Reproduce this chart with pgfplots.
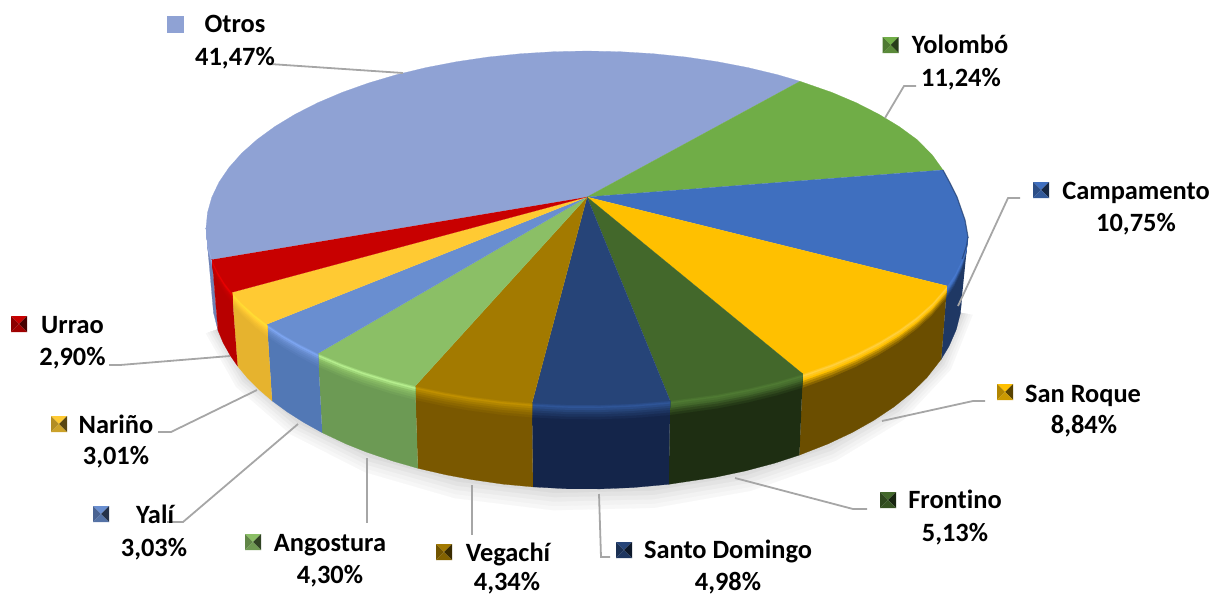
\documentclass[border=0pt]{standalone}
\usepackage{fontspec}
\setmainfont{Carlito}[Ligatures=NoCommon]
\usepackage{pgfplots}
\usepackage{pgfplotstable}
\pgfplotsset{compat=1.18}

% top face / highlight / side colours
\definecolor{tOt}{HTML}{8FA2D4}\definecolor{hOt}{HTML}{A0B4E8}\definecolor{sOt}{HTML}{6E82B5}
\definecolor{tYo}{HTML}{70AD47}
\definecolor{tCa}{HTML}{3F6FBF}\definecolor{hCa}{HTML}{4A7CD2}\definecolor{sCa}{HTML}{1F3864}
\definecolor{tSR}{HTML}{FFC000}\definecolor{hSR}{HTML}{FFD040}\definecolor{sSR}{HTML}{6B4E00}
\definecolor{tFr}{HTML}{43682B}\definecolor{hFr}{HTML}{4F7A33}\definecolor{sFr}{HTML}{1E2E12}
\definecolor{tSD}{HTML}{264478}\definecolor{hSD}{HTML}{2F5597}\definecolor{sSD}{HTML}{14254A}
\definecolor{tVe}{HTML}{A37A00}\definecolor{hVe}{HTML}{C09000}\definecolor{sVe}{HTML}{7A5800}
\definecolor{tAn}{HTML}{8BBF66}\definecolor{hAn}{HTML}{B6EE8E}\definecolor{sAn}{HTML}{6C9A54}
\definecolor{tYa}{HTML}{698ED0}\definecolor{hYa}{HTML}{7EA6F2}\definecolor{sYa}{HTML}{5278B5}
\definecolor{tNa}{HTML}{FFCA33}\definecolor{hNa}{HTML}{FFDF33}\definecolor{sNa}{HTML}{E6B32E}
\definecolor{tUr}{HTML}{C80000}\definecolor{hUr}{HTML}{EE0000}\definecolor{sUr}{HTML}{B80000}
\definecolor{leadc}{HTML}{A6A6A6}

% rim of each slice in pixels: x y, and the way down to the bottom edge dx dy
\pgfplotstableread{
x y dx dy
960.6 312.8 0 0
939.4 362 0 0
894.2 406.7 0 0
828 443.8 0 0
745.5 470.9 0 0
652.1 486.1 0 0
554.3 488.3 0 0
458.8 477.4 0 0
371.9 454.1 0 0
299.8 420.1 0 0
247.1 377.6 0 0
217.7 329.5 0 0
217.7 329.5 -11.8 3.8
247.1 377.6 -10.9 9.3
299.8 420.1 -9.2 14.1
371.9 454.1 -6.9 18
458.8 477.4 -4.1 20.7
554.3 488.3 -1 21.9
652.1 486.1 2.1 21.7
745.5 470.9 5.1 19.9
828 443.8 7.7 16.9
894.2 406.7 9.8 12.6
939.4 362 11.3 7.5
960.6 312.8 12 1.9
}\tShadow
\pgfplotstableread{
x y dx dy
968 237 0 0
966.5 246 0 0
962.2 259 0 0
955 273.8 0 0
947 285.9 0 0
947 285.9 -5.7 73.2
955 273.8 -5.8 72.1
962.2 259 -5.9 70.5
966.5 246 -6 66.8
968 237 -6 59
}\tCa
\pgfplotstableread{
x y dx dy
947 285.9 0 0
932.3 302.8 0 0
916.9 316.5 0 0
899.1 329.5 0 0
878.8 341.8 0 0
856.4 353.2 0 0
831.9 363.6 0 0
802.8 373.9 0 0
802.8 373.9 -3.4 81.2
831.9 363.6 -3.9 80.3
856.4 353.2 -4.2 79.3
878.8 341.8 -4.6 78.3
899.1 329.5 -4.9 77.2
916.9 316.5 -5.2 76
932.3 302.8 -5.4 74.8
947 285.9 -5.7 73.2
}\tSR
\pgfplotstableread{
x y dx dy
802.8 373.9 0 0
777.5 381.3 0 0
748 388.4 0 0
717.3 394.3 0 0
670.1 400.7 0 0
670.1 400.7 -1.3 83.6
717.3 394.3 -2.1 83
748 388.4 -2.5 82.5
777.5 381.3 -3 81.9
802.8 373.9 -3.4 81.2
}\tFr
\pgfplotstableread{
x y dx dy
670.1 400.7 0 0
633.4 403.7 0 0
600.3 404.9 0 0
567.1 404.8 0 0
532 403.1 0 0
532 403.1 .9 83.8
567.1 404.8 .3 84
600.3 404.9 -.2 84
633.4 403.7 -.7 83.9
670.1 400.7 -1.3 83.6
}\tSD
\pgfplotstableread{
x y dx dy
532 403.1 0 0
501.3 400.5 0 0
469.3 396.3 0 0
444.3 392.1 0 0
415.2 386 0 0
415.2 386 2.7 82.3
444.3 392.1 2.2 82.8
469.3 396.3 1.9 83.2
501.3 400.5 1.4 83.6
532 403.1 .9 83.8
}\tVe
\pgfplotstableread{
x y dx dy
415.2 386 0 0
390.8 379.7 0 0
363 371.2 0 0
342.1 363.6 0 0
318 353.4 0 0
318 353.4 4.2 79.3
342.1 363.6 3.9 80.3
363 371.2 3.5 80.9
390.8 379.7 3.1 81.7
415.2 386 2.7 82.3
}\tAn
\pgfplotstableread{
x y dx dy
318 353.4 0 0
299.5 344.1 0 0
282.7 334.5 0 0
267.1 324.1 0 0
267.1 324.1 5 76.7
282.7 334.5 4.8 77.6
299.5 344.1 4.5 78.5
318 353.4 4.2 79.3
}\tYa
\pgfplotstableread{
x y dx dy
267.1 324.1 0 0
253.8 313.8 0 0
241.7 302.8 0 0
232 292.3 0 0
232 292.3 5.6 73.8
241.7 302.8 5.4 74.8
253.8 313.8 5.2 75.8
267.1 324.1 5 76.7
}\tNa
\pgfplotstableread{
x y dx dy
232 292.3 0 0
224.6 282.7 0 0
217.3 270.8 0 0
212.1 259.6 0 0
212.1 259.6 5.9 70.9
217.3 270.8 5.8 71.9
224.6 282.7 5.7 72.9
232 292.3 5.6 73.8
}\tUr
\pgfplotstableread{
x y dx dy
212.1 259.6 0 0
207.5 243.4 0 0
206 228 0 0
206 228 6 68
207.5 243.4 6 69.4
212.1 259.6 5.9 70.9
}\tOt

\newcommand\band[3]{\addplot[fill=#2,draw=#2,ultra thin] table[x expr=\thisrow{x}+#1*\thisrow{dx},y expr=\thisrow{y}+#1*\thisrow{dy}]{#3};}
% table, top colour, highlight, side colour
\newcommand\sideof[4]{%
  \band{1}{#4}{#1}
  \band{.17}{#4!80!#2}{#1}
  \band{.14}{#4!55!#2}{#1}
  \band{.11}{#4!30!#2}{#1}
  \band{.085}{#2}{#1}
  \band{.06}{#3!50!#2}{#1}
  \band{.035}{#3}{#1}
  \band{.015}{#3!50!#2}{#1}
}
% legend keys, four bevelled triangles
\newcommand\defkey[2]{\pgfdeclareplotmark{#1}{%
  \pgfsetfillcolor{#2}%
  \pgfpathmoveto{\pgfqpoint{0pt}{0pt}}\pgfpathlineto{\pgfqpoint{-\pgfplotmarksize}{\pgfplotmarksize}}\pgfpathlineto{\pgfqpoint{\pgfplotmarksize}{\pgfplotmarksize}}\pgfpathclose\pgfusepathqfill
  \pgfsetfillcolor{#2!70!black}%
  \pgfpathmoveto{\pgfqpoint{0pt}{0pt}}\pgfpathlineto{\pgfqpoint{-\pgfplotmarksize}{\pgfplotmarksize}}\pgfpathlineto{\pgfqpoint{-\pgfplotmarksize}{-\pgfplotmarksize}}\pgfpathclose\pgfusepathqfill
  \pgfsetfillcolor{#2!35!black}%
  \pgfpathmoveto{\pgfqpoint{0pt}{0pt}}\pgfpathlineto{\pgfqpoint{\pgfplotmarksize}{\pgfplotmarksize}}\pgfpathlineto{\pgfqpoint{\pgfplotmarksize}{-\pgfplotmarksize}}\pgfpathclose\pgfusepathqfill
  \pgfsetfillcolor{#2!80!black}%
  \pgfpathmoveto{\pgfqpoint{0pt}{0pt}}\pgfpathlineto{\pgfqpoint{-\pgfplotmarksize}{-\pgfplotmarksize}}\pgfpathlineto{\pgfqpoint{\pgfplotmarksize}{-\pgfplotmarksize}}\pgfpathclose\pgfusepathqfill
}}
\defkey{kYo}{tYo}\defkey{kCa}{tCa}\defkey{kSR}{tSR}\defkey{kFr}{tFr}\defkey{kSD}{tSD}
\defkey{kVe}{tVe}\defkey{kAn}{tAn}\defkey{kYa}{tYa}\defkey{kNa}{tNa}\defkey{kUr}{tUr}

\begin{document}
\begin{tikzpicture}[
  lbl/.style={anchor=base,inner sep=0pt,text=black,font=\fontsize{13.2}{15}\selectfont\bfseries}]
\begin{axis}[
  scale only axis,width=607.5pt,height=297.5pt,
  xmin=0,xmax=1215,ymin=0,ymax=595,y dir=reverse,
  hide axis,
  lead/.style={color=leadc,line width=.9pt,mark=none},
  face/.style={fill=#1,draw=#1,ultra thin,mark=none},
  key/.style={only marks,mark=#1,mark size=4pt},
]
% keeps the whole canvas in the page
\addplot[draw=none,mark=none] coordinates {(0,0) (1215,595)};
% shadow under the pie
\band{1}{black!3}{\tShadow}
\band{.8}{black!5}{\tShadow}
\band{.6}{black!8}{\tShadow}
\band{.4}{black!11}{\tShadow}
\band{.2}{black!14}{\tShadow}
\band{0}{black!17}{\tShadow}
% outer walls
\sideof{\tOt}{tOt}{hOt}{sOt}
\sideof{\tCa}{tCa}{hCa}{sCa}
\sideof{\tSR}{tSR}{hSR}{sSR}
\sideof{\tFr}{tFr}{hFr}{sFr}
\sideof{\tSD}{tSD}{hSD}{sSD}
\sideof{\tVe}{tVe}{hVe}{sVe}
\sideof{\tAn}{tAn}{hAn}{sAn}
\sideof{\tYa}{tYa}{hYa}{sYa}
\sideof{\tNa}{tNa}{hNa}{sNa}
\sideof{\tUr}{tUr}{hUr}{sUr}
% top faces
\addplot[face=tOt] coordinates {(587,197) (212.1,259.6) (207.5,243.4) (206,228) (207.5,212.6) (211.8,197.3) (219,182.2) (229,167.5) (241.7,153.2) (257.1,139.5) (274.9,126.5) (295.2,114.2) (317.6,102.8) (342.1,92.4) (368.5,83) (396.5,74.7) (426,67.6) (456.7,61.7) (488.4,57) (520.9,53.7) (553.8,51.7) (587,51) (620.2,51.7) (653.1,53.7) (685.6,57) (717.3,61.7) (748,67.6) (777.5,74.7) (800,81.3)};
\addplot[face=tYo] coordinates {(587,197) (800,81.3) (831.9,92.4) (856.4,102.8) (878.8,114.2) (899.1,126.5) (916.9,139.5) (932.3,155) (943,170)};
\addplot[face=tCa] coordinates {(587,197) (943,170) (950,183) (957,197) (965,220) (968,237) (966.5,246) (962.2,259) (955,273.8) (947,285.9)};
\addplot[face=tSR] coordinates {(587,197) (947,285.9) (932.3,302.8) (916.9,316.5) (899.1,329.5) (878.8,341.8) (856.4,353.2) (831.9,363.6) (802.8,373.9)};
\addplot[face=tFr] coordinates {(587,197) (802.8,373.9) (777.5,381.3) (748,388.4) (717.3,394.3) (670.1,400.7)};
\addplot[face=tSD] coordinates {(587,197) (670.1,400.7) (633.4,403.7) (600.3,404.9) (567.1,404.8) (532,403.1)};
\addplot[face=tVe] coordinates {(587,197) (532,403.1) (501.3,400.5) (469.3,396.3) (444.3,392.1) (415.2,386)};
\addplot[face=tAn] coordinates {(587,197) (415.2,386) (390.8,379.7) (363,371.2) (342.1,363.6) (318,353.4)};
\addplot[face=tYa] coordinates {(587,197) (318,353.4) (299.5,344.1) (282.7,334.5) (267.1,324.1)};
\addplot[face=tNa] coordinates {(587,197) (267.1,324.1) (253.8,313.8) (241.7,302.8) (232,292.3)};
\addplot[face=tUr] coordinates {(587,197) (232,292.3) (224.6,282.7) (217.3,270.8) (212.1,259.6)};
% dark edge along the upper right rim
\addplot[color=sCa,line width=.6pt,opacity=.6,mark=none] coordinates {(943,170) (950,183) (957,197) (965,220) (968,237) (966.5,246) (962.2,259)};
% leader lines
\addplot[lead] coordinates {(270,64) (403,73)};
\addplot[lead] coordinates {(916,86) (904,86) (885,118)};
\addplot[lead] coordinates {(1020,198) (1008,198) (958,306)};
\addplot[lead] coordinates {(985,401) (973,401) (882,421)};
\addplot[lead] coordinates {(735,478) (853,509) (867,509)};
\addplot[lead] coordinates {(599,494) (601,557) (610,557)};
\addplot[lead] coordinates {(472,485) (472,535)};
\addplot[lead] coordinates {(367,458) (367,523)};
\addplot[lead] coordinates {(298,424) (183,522) (167,522)};
\addplot[lead] coordinates {(257,390) (171,432) (158,432)};
\addplot[lead] coordinates {(230,356) (120,365) (109,365)};
% legend keys
\addplot[only marks,mark=square*,mark size=4pt,color=tOt] coordinates {(175,24)};
\addplot[key=kYo] coordinates {(890.5,45)};
\addplot[key=kCa] coordinates {(1041,190)};
\addplot[key=kSR] coordinates {(1005,392)};
\addplot[key=kFr] coordinates {(888,500)};
\addplot[key=kSD] coordinates {(624,550)};
\addplot[key=kVe] coordinates {(444,552)};
\addplot[key=kAn] coordinates {(253,542)};
\addplot[key=kYa] coordinates {(101,514)};
\addplot[key=kNa] coordinates {(59,424)};
\addplot[key=kUr] coordinates {(19,324)};
% labels, y is the baseline
\node[lbl] at (axis cs:235,32) {Otros};
\node[lbl] at (axis cs:235,65) {41,47\%};
\node[lbl] at (axis cs:960,53) {Yolombó};
\node[lbl] at (axis cs:961,86) {11,24\%};
\node[lbl] at (axis cs:1136,199) {Campamento};
\node[lbl] at (axis cs:1136,231) {10,75\%};
\node[lbl] at (axis cs:1083,402) {San Roque};
\node[lbl] at (axis cs:1084,433) {8,84\%};
\node[lbl] at (axis cs:955,508) {Frontino};
\node[lbl] at (axis cs:955,541) {5,13\%};
\node[lbl] at (axis cs:728,558) {Santo Domingo};
\node[lbl] at (axis cs:728,590) {4,98\%};
\node[lbl] at (axis cs:508,561) {Vegachí};
\node[lbl] at (axis cs:507,590.5) {4,34\%};
\node[lbl] at (axis cs:330,551) {Angostura};
\node[lbl] at (axis cs:330,583) {4,30\%};
\node[lbl] at (axis cs:155,523) {Yalí};
\node[lbl] at (axis cs:154,556) {3,03\%};
\node[lbl] at (axis cs:116,433) {Nariño};
\node[lbl] at (axis cs:116,464) {3,01\%};
\node[lbl] at (axis cs:72.5,333) {Urrao};
\node[lbl] at (axis cs:72.5,365) {2,90\%};
\end{axis}
\end{tikzpicture}
\end{document}
